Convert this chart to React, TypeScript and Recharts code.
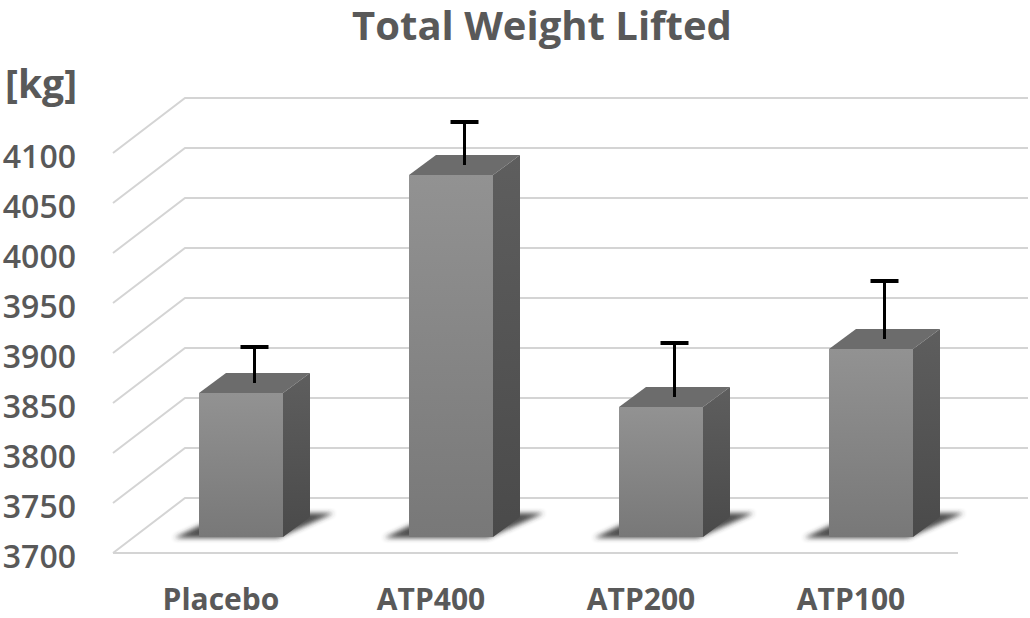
import { BarChart, Bar, XAxis, YAxis, CartesianGrid, ReferenceLine } from "recharts";

const CATEGORIES = ["Placebo", "ATP400", "ATP200", "ATP100"];
const MEANS = [3844, 4062, 3830, 3888];
const ERRORS = [36, 43, 54, 58];
const Y_TICKS = [3700, 3750, 3800, 3850, 3900, 3950, 4000, 4050, 4100];
const Y_MIN = 3700;
const Y_MAX = 4100;

const data = CATEGORIES.map((name, i) => ({ name, value: MEANS[i], err: ERRORS[i] }));

// fake 3d depth of the bars, and of the walls
const DX = 27;
const DY = 20;
const TEXT = "#595959";
const FONT = "'Open Sans', sans-serif";
const GRID = "#d4d4d4";

function Bar3D(props: any) {
  const { x, y, width, height, payload } = props;
  const base = y + height;
  const perUnit = height / (payload.value - Y_MIN);
  const errPx = payload.err * perUnit;
  const cx = x + width / 2 + DX / 2;
  const cy = y - DY / 2;
  return (
    <g>
      <polygon
        points={`${x - 25},${base + 1} ${x + width - 5},${base + 1} ${x + width + DX + 24},${base - DY - 4} ${x + DX},${base - DY - 4}`}
        fill="#2e2e2e"
        opacity={0.85}
        filter="url(#shadowBlur)"
      />
      <rect x={x} y={y} width={width} height={height} fill="url(#frontGrad)" />
      <polygon
        points={`${x},${y} ${x + DX},${y - DY} ${x + width + DX},${y - DY} ${x + width},${y}`}
        fill="#6c6c6c"
      />
      <polygon
        points={`${x + width},${y} ${x + width + DX},${y - DY} ${x + width + DX},${base - DY} ${x + width},${base}`}
        fill="url(#sideGrad)"
      />
      <line x1={cx} y1={cy} x2={cx} y2={cy - errPx} stroke="#000" strokeWidth={3} />
      <line x1={cx - 14} y1={cy - errPx} x2={cx + 14} y2={cy - errPx} stroke="#000" strokeWidth={4} />
    </g>
  );
}

function GridLine(p: any) {
  const y = p.y1;
  return (
    <polyline
      key={`h-${p.index}`}
      points={`${p.x1 - 23},${y + 16} ${p.x1 + 49},${y - 39} ${p.x2 + 52},${y - 39}`}
      fill="none"
      stroke={GRID}
      strokeWidth={2}
    />
  );
}

function FloorFront(p: any) {
  return <line x1={p.x1 - 23} y1={p.y1 + 16} x2={p.x2 - 18} y2={p.y1 + 16} stroke={GRID} strokeWidth={2} />;
}

function YTick(p: any) {
  return (
    <text x={p.x - 60} y={p.y + 18} textAnchor="end" dominantBaseline="central" fill={TEXT} fontSize={32} fontWeight={600} fontFamily={FONT}>
      {p.payload.value}
    </text>
  );
}

function XTick(p: any) {
  return (
    <text x={p.x - 20} y={p.y + 73} textAnchor="middle" fill={TEXT} fontSize={30} fontWeight={700} fontFamily={FONT}>
      {p.payload.value}
    </text>
  );
}

export default function App() {
  return (
    <div style={{ position: "relative", width: 1030, height: 618, background: "#fff" }}>
      <style>{`body{margin:0}`}</style>
      <BarChart width={1030} height={618} data={data} margin={{ top: 137, right: 54, bottom: 0, left: 0 }}>
        <defs>
          <linearGradient id="frontGrad" x1="0" y1="0" x2="0" y2="1">
            <stop offset="0%" stopColor="#929292" />
            <stop offset="100%" stopColor="#787878" />
          </linearGradient>
          <linearGradient id="sideGrad" x1="0" y1="0" x2="0" y2="1">
            <stop offset="0%" stopColor="#5e5e5e" />
            <stop offset="100%" stopColor="#4a4a4a" />
          </linearGradient>
          <filter id="shadowBlur" x="-20%" y="-50%" width="140%" height="200%">
            <feGaussianBlur stdDeviation="2.5" />
          </filter>
        </defs>
        <CartesianGrid vertical={false} horizontal={GridLine} />
        <ReferenceLine y={Y_MIN} shape={FloorFront} />
        <XAxis dataKey="name" height={81} axisLine={false} tickLine={false} tickSize={0} tickMargin={0} tick={XTick} interval={0} />
        <YAxis
          width={136}
          domain={[Y_MIN, Y_MAX]}
          ticks={Y_TICKS}
          axisLine={false}
          tickLine={false}
          tickSize={0}
          tickMargin={0}
          tick={YTick}
          interval={0}
        />
        <Bar dataKey="value" barSize={84} shape={Bar3D} isAnimationActive={false} />
      </BarChart>
      <svg width={1030} height={618} style={{ position: "absolute", left: 0, top: 0, pointerEvents: "none" }}>
        <text x={542} y={40} textAnchor="middle" fill={TEXT} fontSize={40} fontWeight={700} fontFamily={FONT}>
          Total Weight Lifted
        </text>
        <text x={5} y={98} fill={TEXT} fontSize={39} fontWeight={700} fontFamily={FONT}>
          [kg]
        </text>
      </svg>
    </div>
  );
}
